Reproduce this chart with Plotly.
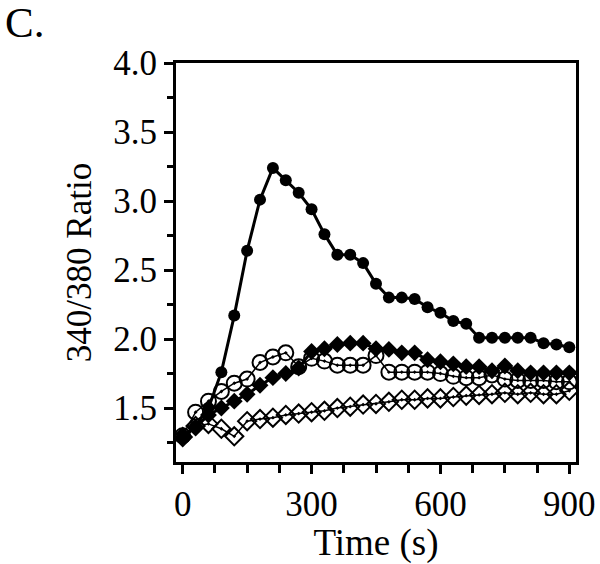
import plotly.graph_objects as go

time_s = [0, 30, 60, 90, 120, 150, 180, 210, 240, 270, 300, 330, 360, 390, 420, 450,
          480, 510, 540, 570, 600, 630, 660, 690, 720, 750, 780, 810, 840, 870, 900]

filled_circles = [1.29, 1.37, 1.50, 1.76, 2.17, 2.64, 3.01, 3.24, 3.15, 3.06, 2.94, 2.76,
                  2.61, 2.61, 2.55, 2.40, 2.30, 2.30, 2.29, 2.23, 2.19, 2.13, 2.11, 2.01,
                  2.01, 2.01, 2.01, 2.01, 1.97, 1.96, 1.94]

open_circles = [1.30, 1.47, 1.55, 1.62, 1.68, 1.71, 1.83, 1.87, 1.90, 1.80, 1.86, 1.84,
                1.81, 1.81, 1.81, 1.88, 1.76, 1.76, 1.76, 1.76, 1.75, 1.73, 1.72, 1.72,
                1.74, 1.71, 1.70, 1.70, 1.70, 1.69, 1.69]

filled_diamonds = [1.29, 1.36, 1.45, 1.50, 1.55, 1.60, 1.665, 1.72, 1.75, 1.79, 1.91, 1.93,
                   1.96, 1.97, 1.97, 1.93, 1.925, 1.90, 1.90, 1.85, 1.835, 1.82, 1.80, 1.80,
                   1.77, 1.805, 1.77, 1.755, 1.755, 1.755, 1.755]

open_diamonds = [1.29, 1.37, 1.385, 1.35, 1.295, 1.405, 1.42, 1.43, 1.45, 1.46, 1.47, 1.48,
                 1.50, 1.51, 1.525, 1.53, 1.545, 1.56, 1.56, 1.57, 1.57, 1.58, 1.59, 1.595,
                 1.60, 1.61, 1.60, 1.61, 1.60, 1.60, 1.625]

x_ticks = [0, 300, 600, 900]
y_ticks = [1.5, 2.0, 2.5, 3.0, 3.5, 4.0]

FONT = "Liberation Serif"
W, H = 600, 564
L, R, T, B = 176, 24, 63, 102
PW, PH = W - L - R, H - T - B

fig = go.Figure()

fig.add_trace(go.Scatter(
    x=time_s, y=open_diamonds, mode="lines+markers",
    line=dict(color="black", width=1.5),
    marker=dict(symbol="diamond-open-dot", size=14, color="black", line=dict(width=2)),
    showlegend=False))

fig.add_trace(go.Scatter(
    x=time_s, y=open_circles, mode="lines+markers",
    line=dict(color="black", width=1.5),
    marker=dict(symbol="circle-open-dot", size=15, color="black", line=dict(width=2)),
    showlegend=False))

fig.add_trace(go.Scatter(
    x=time_s, y=filled_diamonds, mode="lines+markers",
    line=dict(color="black", width=3),
    marker=dict(symbol="diamond", size=13, color="black"),
    showlegend=False))

fig.add_trace(go.Scatter(
    x=time_s, y=filled_circles, mode="lines+markers",
    line=dict(color="black", width=3),
    marker=dict(symbol="circle", size=12, color="black"),
    showlegend=False))

fig.update_layout(
    width=W, height=H,
    margin=dict(l=L, r=R, t=T, b=B, autoexpand=False),
    paper_bgcolor="white", plot_bgcolor="white",
    font=dict(family=FONT, color="black", size=34),
    annotations=[dict(text="C.", x=(3 - L) / PW, y=1 + (T - 22) / PH,
                      xref="paper", yref="paper", height=38, valign="middle",
                      xanchor="left", yanchor="middle", showarrow=False,
                      font=dict(family=FONT, size=43, color="black"))],
)

fig.update_xaxes(
    range=[-15.6, 915.6], automargin=False,
    tickvals=x_ticks, ticktext=[str(v) for v in x_ticks],
    ticks="outside", ticklen=9, tickwidth=3, tickcolor="black",
    minor=dict(dtick=75, tick0=0, ticks="outside", ticklen=8, tickwidth=3, tickcolor="black"),
    showline=True, linewidth=3, linecolor="black", mirror=True,
    showgrid=False, zeroline=False,
    tickfont=dict(family=FONT, size=35),
    title=dict(text="Time (s)", font=dict(family=FONT, size=37), standoff=13),
)

fig.update_yaxes(
    range=[1.109, 4.0], automargin=False,
    tickvals=y_ticks, ticktext=[f"{v:.1f}" for v in y_ticks],
    ticks="outside", ticklen=9, tickwidth=3, tickcolor="black",
    minor=dict(dtick=0.25, tick0=1.25, ticks="outside", ticklen=6, tickwidth=3, tickcolor="black"),
    showline=True, linewidth=3, linecolor="black", mirror=True,
    showgrid=False, zeroline=False,
    tickfont=dict(family=FONT, size=35),
    title=dict(text="340/380 Ratio", font=dict(family=FONT, size=35), standoff=12),
)

fig.write_html(
    "out.html",
    config={"displayModeBar": False},
    post_script="document.body.style.margin='0';document.body.style.overflow='hidden';",
)
